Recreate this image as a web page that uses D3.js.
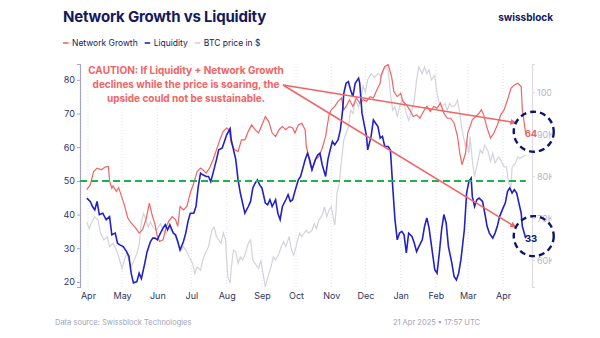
<!DOCTYPE html>
<html>
<head>
<meta charset="utf-8">
<script src="https://cdn.jsdelivr.net/npm/d3@7"></script>
<style>
  html, body { margin: 0; padding: 0; background: #ffffff; }
  svg { display: block; font-family: Inter, "Noto Sans", sans-serif; }
</style>
</head>
<body>
<svg id="chart" width="600" height="338"></svg>
<script>
// ---- data -------------------------------------------------------------
const networkGrowth = [
  ["2024-03-31",47.4],["2024-04-03",48.8],["2024-04-06",52.8],["2024-04-09",53.8],["2024-04-13",53.3],
  ["2024-04-16",54.1],["2024-04-19",54.3],["2024-04-20",50],["2024-04-22",47.8],["2024-04-23",48.5],
  ["2024-04-26",46.9],["2024-04-28",48],["2024-05-01",44.9],["2024-05-03",42.9],["2024-05-06",39],
  ["2024-05-09",37.5],["2024-05-13",36],["2024-05-16",34.5],["2024-05-19",35.5],["2024-05-22",38.5],
  ["2024-05-25",43.4],["2024-05-27",40.4],["2024-05-30",37],["2024-06-01",33.5],["2024-06-03",32],
  ["2024-06-06",32.5],["2024-06-09",36.5],["2024-06-11",38],["2024-06-14",39.4],["2024-06-17",38.5],
  ["2024-06-19",36.5],["2024-06-21",42.4],["2024-06-24",41.4],["2024-06-27",42.4],["2024-06-30",46.4],
  ["2024-07-03",49.3],["2024-07-06",52.8],["2024-07-09",53.8],["2024-07-11",53.3],["2024-07-14",52.3],
  ["2024-07-17",53.8],["2024-07-20",56.3],["2024-07-23",59.2],["2024-07-26",62.2],["2024-07-29",64.7],
  ["2024-08-01",65.7],["2024-08-03",65.2],["2024-08-05",61.2],["2024-08-08",59.2],["2024-08-11",58.7],
  ["2024-08-14",62.2],["2024-08-17",62.2],["2024-08-20",64.7],["2024-08-23",66.6],["2024-08-26",65.2],
  ["2024-08-29",64.2],["2024-09-01",66.6],["2024-09-04",69.1],["2024-09-07",67.6],["2024-09-10",64.2],
  ["2024-09-13",63.2],["2024-09-16",65.2],["2024-09-19",66.1],["2024-09-22",65.2],["2024-09-25",66.1],
  ["2024-09-28",65.7],["2024-09-30",64.2],["2024-10-03",66.6],["2024-10-06",67.1],["2024-10-09",65.2],
  ["2024-10-10",60.2],["2024-10-12",57.7],["2024-10-13",55.3],["2024-10-15",53.3],["2024-10-16",54.3],
  ["2024-10-18",56.3],["2024-10-21",57.2],["2024-10-24",59.7],["2024-10-27",63.2],["2024-10-30",69.6],
  ["2024-11-01",71.1],["2024-11-04",72.1],["2024-11-07",73.6],["2024-11-10",74.6],["2024-11-12",71.1],
  ["2024-11-14",72.1],["2024-11-17",74.1],["2024-11-20",72.1],["2024-11-23",74.6],["2024-11-26",73.1],
  ["2024-11-29",74.1],["2024-12-02",73.6],["2024-12-05",75],["2024-12-08",74.6],["2024-12-11",77],
  ["2024-12-14",79],["2024-12-15",81.5],["2024-12-18",84],["2024-12-21",84.5],["2024-12-24",81],
  ["2024-12-26",76.5],["2024-12-29",75],["2025-01-01",76],["2025-01-03",73.6],["2025-01-06",72.6],
  ["2025-01-09",71.1],["2025-01-12",69.1],["2025-01-15",69.6],["2025-01-18",68.6],["2025-01-21",70.6],
  ["2025-01-24",72.1],["2025-01-27",70.6],["2025-01-30",72.1],["2025-02-02",71.6],["2025-02-05",73.1],
  ["2025-02-08",70.1],["2025-02-11",68.6],["2025-02-14",68.6],["2025-02-17",67.1],["2025-02-20",63.2],
  ["2025-02-22",58.2],["2025-02-24",54.8],["2025-02-27",58.2],["2025-03-01",64.2],["2025-03-05",68.1],
  ["2025-03-08",69.1],["2025-03-11",70.1],["2025-03-13",71.1],["2025-03-15",69.6],["2025-03-18",65.7],
  ["2025-03-21",62.7],["2025-03-24",64.2],["2025-03-27",66.6],["2025-03-30",69.6],["2025-04-02",71.1],
  ["2025-04-05",74.1],["2025-04-08",77.5],["2025-04-11",78.5],["2025-04-14",79],["2025-04-17",78],
  ["2025-04-18",71.1],["2025-04-21",64]
];

const liquidity = [
  ["2024-03-31",44.9],["2024-04-03",43.9],["2024-04-05",42.4],["2024-04-07",41.4],["2024-04-09",43.9],
  ["2024-04-11",40],["2024-04-14",40.4],["2024-04-17",38.5],["2024-04-20",39.4],["2024-04-22",34],
  ["2024-04-25",34.5],["2024-04-27",31.5],["2024-04-29",31],["2024-05-02",30.5],["2024-05-05",29],
  ["2024-05-07",27.6],["2024-05-09",22.6],["2024-05-11",19.7],["2024-05-14",20.1],["2024-05-16",22.6],
  ["2024-05-18",21],["2024-05-21",25.6],["2024-05-23",29],["2024-05-26",32],["2024-05-28",33],
  ["2024-05-30",33],["2024-06-01",32.5],["2024-06-03",34],["2024-06-06",36],["2024-06-08",37],
  ["2024-06-10",35.5],["2024-06-12",37],["2024-06-15",34.5],["2024-06-17",34],["2024-06-19",32],
  ["2024-06-21",29.5],["2024-06-24",32],["2024-06-26",34.5],["2024-06-28",38],["2024-06-30",40.4],
  ["2024-07-03",40.4],["2024-07-05",42.4],["2024-07-07",48.3],["2024-07-09",52.3],["2024-07-11",51.8],
  ["2024-07-14",51.3],["2024-07-16",51.3],["2024-07-18",49.8],["2024-07-20",52.3],["2024-07-23",56.3],
  ["2024-07-25",59.2],["2024-07-28",59.7],["2024-07-30",61.7],["2024-08-01",63.7],["2024-08-04",65.5],
  ["2024-08-05",62.2],["2024-08-07",59.2],["2024-08-09",56.3],["2024-08-11",50.3],["2024-08-13",46.4],
  ["2024-08-15",43.4],["2024-08-17",40.4],["2024-08-20",42.4],["2024-08-22",43.9],["2024-08-24",47.9],
  ["2024-08-26",49.3],["2024-08-28",50.3],["2024-08-30",48.8],["2024-09-01",47.9],["2024-09-04",43.4],
  ["2024-09-06",42.9],["2024-09-08",44.4],["2024-09-10",42.4],["2024-09-13",44.4],["2024-09-15",40.4],
  ["2024-09-17",38.5],["2024-09-19",42.4],["2024-09-22",44.4],["2024-09-24",45.9],["2024-09-26",43.9],
  ["2024-09-28",44.4],["2024-09-30",46.9],["2024-10-03",50.3],["2024-10-05",51.3],["2024-10-07",53.8],
  ["2024-10-09",56.3],["2024-10-11",58.2],["2024-10-13",56.3],["2024-10-15",53.3],["2024-10-18",56.3],
  ["2024-10-20",57.7],["2024-10-22",58.2],["2024-10-24",54.8],["2024-10-27",51.3],["2024-10-29",56.3],
  ["2024-10-31",59.2],["2024-11-02",61.7],["2024-11-04",60.7],["2024-11-07",62.2],["2024-11-09",65.2],
  ["2024-11-11",71.1],["2024-11-12",76],["2024-11-14",79],["2024-11-16",79.5],["2024-11-18",77],
  ["2024-11-20",75],["2024-11-22",79],["2024-11-25",80.5],["2024-11-26",79],["2024-11-28",70.1],
  ["2024-11-30",66.6],["2024-12-02",63.2],["2024-12-03",59.2],["2024-12-06",63.2],["2024-12-08",68.1],
  ["2024-12-10",67.1],["2024-12-12",66.1],["2024-12-14",62.7],["2024-12-16",63.2],["2024-12-18",60.2],
  ["2024-12-21",60.2],["2024-12-23",59.2],["2024-12-25",48.3],["2024-12-27",38.5],["2024-12-29",32.5],
  ["2024-12-31",34.5],["2025-01-02",35],["2025-01-04",34],["2025-01-06",28.6],["2025-01-08",34.5],
  ["2025-01-11",33.5],["2025-01-13",31.5],["2025-01-15",29],["2025-01-17",30.5],["2025-01-20",32.5],
  ["2025-01-22",36.5],["2025-01-24",39],["2025-01-26",36],["2025-01-28",31],["2025-01-31",23.6],
  ["2025-02-02",22.6],["2025-02-04",28.6],["2025-02-06",35.5],["2025-02-08",40],["2025-02-10",37.5],
  ["2025-02-12",30.5],["2025-02-15",25.6],["2025-02-17",21.6],["2025-02-19",20.6],["2025-02-21",22.6],
  ["2025-02-23",26.6],["2025-02-26",35.5],["2025-02-28",46.4],["2025-03-02",49.8],["2025-03-04",50.8],
  ["2025-03-05",45.4],["2025-03-07",42.4],["2025-03-09",44.4],["2025-03-11",44.9],["2025-03-14",43.9],
  ["2025-03-16",40.4],["2025-03-18",36.5],["2025-03-20",34.5],["2025-03-23",33],["2025-03-25",34.5],
  ["2025-03-27",36.5],["2025-03-29",39.4],["2025-04-01",41.9],["2025-04-03",43.4],["2025-04-05",46.9],
  ["2025-04-07",47.9],["2025-04-09",46.4],["2025-04-11",47.4],["2025-04-13",46.4],["2025-04-15",43.4],
  ["2025-04-17",40.4],["2025-04-18",36.5],["2025-04-21",33]
];

// BTC price, thousands of US dollars
const btcPrice = [
  ["2024-03-31",69.1],["2024-04-02",67.5],["2024-04-04",68.8],["2024-04-07",70.3],["2024-04-10",69.5],
  ["2024-04-12",66.4],["2024-04-15",64.8],["2024-04-18",65.6],["2024-04-20",63.2],["2024-04-23",64],
  ["2024-04-26",62.4],["2024-04-28",60.8],["2024-05-01",58],["2024-05-03",60],["2024-05-05",61.6],
  ["2024-05-07",60],["2024-05-09",58.4],["2024-05-11",59.6],["2024-05-14",61.6],["2024-05-16",63.6],
  ["2024-05-18",69.1],["2024-05-20",71.1],["2024-05-22",69.5],["2024-05-24",67.9],["2024-05-26",69.1],
  ["2024-05-28",67.9],["2024-05-31",67.1],["2024-06-02",67.9],["2024-06-04",68.7],["2024-06-06",67.1],
  ["2024-06-09",66.4],["2024-06-11",67.9],["2024-06-13",67.1],["2024-06-15",66.7],["2024-06-18",64.8],
  ["2024-06-20",63.2],["2024-06-22",62.4],["2024-06-24",63.2],["2024-06-27",62],["2024-06-29",60.8],
  ["2024-07-02",59.2],["2024-07-04",56.8],["2024-07-06",58.4],["2024-07-09",57.6],["2024-07-11",60],
  ["2024-07-13",61.6],["2024-07-16",63.2],["2024-07-19",67.1],["2024-07-21",67.9],["2024-07-23",65.6],
  ["2024-07-25",64.8],["2024-07-27",64],["2024-07-29",66.5],["2024-07-31",64.8],["2024-08-01",60],
  ["2024-08-02",56],["2024-08-04",54.5],["2024-08-05",58],["2024-08-07",62.4],["2024-08-09",62],
  ["2024-08-11",59.2],["2024-08-13",60.8],["2024-08-15",60],["2024-08-17",61.2],["2024-08-20",64],
  ["2024-08-22",64.8],["2024-08-24",60],["2024-08-26",59.2],["2024-08-29",58],["2024-08-31",60],
  ["2024-09-02",56.8],["2024-09-04",53.6],["2024-09-07",56.8],["2024-09-09",58.4],["2024-09-11",60.8],
  ["2024-09-13",60],["2024-09-16",61.6],["2024-09-18",63.2],["2024-09-20",64.4],["2024-09-22",63.2],
  ["2024-09-25",65.6],["2024-09-27",62.4],["2024-09-29",61.2],["2024-10-01",63.2],["2024-10-04",66.4],
  ["2024-10-06",65.6],["2024-10-08",66.4],["2024-10-10",67.1],["2024-10-12",66.4],["2024-10-15",67.1],
  ["2024-10-17",68.7],["2024-10-19",67.5],["2024-10-21",69.5],["2024-10-24",70.7],["2024-10-26",72.7],
  ["2024-10-28",70.3],["2024-10-30",71.9],["2024-11-01",72.7],["2024-11-04",68.3],["2024-11-05",71.1],
  ["2024-11-06",75.9],["2024-11-08",78.3],["2024-11-10",83.8],["2024-11-12",88.6],["2024-11-14",90.2],
  ["2024-11-16",91.7],["2024-11-18",95.7],["2024-11-20",94.9],["2024-11-22",98.1],["2024-11-25",96.5],
  ["2024-11-27",98.5],["2024-11-29",101.5],["2024-12-01",100],["2024-12-03",102.9],["2024-12-06",104.4],
  ["2024-12-09",103.5],["2024-12-12",104.4],["2024-12-15",103.6],["2024-12-18",106],["2024-12-21",105.3],
  ["2024-12-23",99.7],["2024-12-25",95.7],["2024-12-27",96.5],["2024-12-29",94.1],["2024-12-31",96.5],
  ["2025-01-02",98.1],["2025-01-04",97.3],["2025-01-06",94.9],["2025-01-08",93.3],["2025-01-11",95.7],
  ["2025-01-13",98.1],["2025-01-15",102.9],["2025-01-17",106],["2025-01-20",104.4],["2025-01-22",106],
  ["2025-01-24",104.4],["2025-01-26",105.3],["2025-01-28",102.9],["2025-01-31",104],["2025-02-02",99.7],
  ["2025-02-04",97.3],["2025-02-06",96.5],["2025-02-09",97.3],["2025-02-11",95.7],["2025-02-13",97.3],
  ["2025-02-15",96.5],["2025-02-18",96.9],["2025-02-20",98.1],["2025-02-22",94.9],["2025-02-24",91],
  ["2025-02-27",87],["2025-02-28",88.6],["2025-03-02",85.4],["2025-03-03",89.4],["2025-03-05",83.8],
  ["2025-03-07",79.8],["2025-03-10",83.8],["2025-03-12",86.2],["2025-03-14",85.4],["2025-03-16",87.4],
  ["2025-03-19",85.8],["2025-03-21",83.5],["2025-03-23",85.4],["2025-03-25",83.1],["2025-03-28",84.6],
  ["2025-03-30",83.8],["2025-04-02",82.2],["2025-04-04",82.2],["2025-04-06",78.3],["2025-04-08",77.5],
  ["2025-04-09",82.2],["2025-04-12",83.1],["2025-04-14",84.6],["2025-04-16",84.2],["2025-04-18",84.6],
  ["2025-04-21",85]
];

const leftTicks = [20, 30, 40, 50, 60, 70, 80];
const rightTicks = [60, 70, 80, 90, 100];   // thousands of $
const threshold = 50;
const seriesNames = ["Network Growth", "Liquidity", "BTC price in $"];
const cautionLines = [
  "CAUTION: If Liquidity + Network Growth",
  "declines while the price is soaring, the",
  "upside could not be sustainable."
];

// ---- setup ------------------------------------------------------------
const parse = d3.utcParse("%Y-%m-%d");
const toPoints = arr => arr.map(([d, v]) => ({ date: parse(d), value: v }));
const ng = toPoints(networkGrowth);
const lq = toPoints(liquidity);
const px = toPoints(btcPrice);

const C = {
  navy: "#141a5c",
  red: "#f06464",
  blue: "#2222c4",
  grey: "#d3d3de",
  green: "#1fb14f",
  circle: "#0c1670",
  axisLeft: "#a3a6c9",
  axisRight: "#dcdce6",
  rightText: "#b4b6c8",
  footer: "#a2a4b4"
};

const plot = { left: 80, right: 532, top: 64, bottom: 287 };

const svg = d3.select("#chart");

const x = d3.scaleUtc()
  .domain([parse("2024-03-25"), new Date(Date.UTC(2025, 3, 26, 12))])
  .range([plot.left, plot.right]);
const yL = d3.scaleLinear().domain([18.5, 84.7]).range([plot.bottom, plot.top]);
const yR = d3.scaleLinear().domain([53.6, 106.7]).range([plot.bottom, plot.top]);

// ---- header -----------------------------------------------------------
svg.append("text")
  .attr("x", 63).attr("y", 22)
  .attr("fill", C.navy)
  .attr("font-size", 15).attr("font-weight", 700)
  .attr("letter-spacing", -0.2)
  .text("Network Growth vs Liquidity");

svg.append("text")
  .attr("x", 553).attr("y", 21)
  .attr("text-anchor", "end")
  .attr("fill", C.navy)
  .attr("font-size", 10).attr("font-weight", 700)
  .text("swissblock");

// legend
const legendColors = [C.red, C.blue, C.grey];
let lx = 63;
seriesNames.forEach((name, i) => {
  const g = svg.append("g").attr("transform", `translate(${lx},43)`);
  g.append("line").attr("x1", 0).attr("x2", 5.5).attr("y1", 0).attr("y2", 0)
    .attr("stroke", legendColors[i]).attr("stroke-width", 1.6);
  const t = g.append("text").attr("x", 9).attr("y", 3)
    .attr("fill", C.navy).attr("font-size", 8.5).text(name);
  lx += 9 + t.node().getComputedTextLength() + 7;
});

// ---- grid -------------------------------------------------------------
const months = x.ticks(d3.utcMonth.every(1)).filter(d => d >= parse("2024-04-01"));
svg.append("g").selectAll("line").data(months).join("line")
  .attr("x1", d => x(d)).attr("x2", d => x(d))
  .attr("y1", plot.top).attr("y2", plot.bottom)
  .attr("stroke", "#d9dae4").attr("stroke-width", 0.8)
  .attr("stroke-dasharray", "1,2");

// ---- axes -------------------------------------------------------------
const axL = svg.append("g").attr("transform", `translate(${plot.left},0)`)
  .call(d3.axisLeft(yL).tickValues(leftTicks).tickSize(3).tickPadding(2));
axL.select(".domain").attr("stroke", C.axisLeft).attr("stroke-width", 1.2);
axL.selectAll(".tick line").attr("stroke", C.axisLeft);
axL.selectAll("text").attr("fill", "#30345e").attr("font-size", 9).attr("font-family", "Inter, sans-serif");

svg.append("defs").append("clipPath").attr("id", "rclip")
  .append("rect").attr("x", plot.right - 2).attr("y", 0).attr("width", 21.5).attr("height", 338);

const axR = svg.append("g").attr("clip-path", "url(#rclip)")
  .append("g").attr("transform", `translate(${plot.right},0)`)
  .call(d3.axisRight(yR).tickValues(rightTicks).tickFormat(d => d + "K").tickSize(3).tickPadding(2));
axR.select(".domain").attr("stroke", C.axisRight).attr("stroke-width", 1.2);
axR.selectAll(".tick line").attr("stroke", C.axisRight);
axR.selectAll("text").attr("fill", C.rightText).attr("font-size", 9).attr("font-family", "Inter, sans-serif");

const axX = svg.append("g").attr("transform", `translate(0,${plot.bottom})`)
  .call(d3.axisBottom(x).tickValues(months).tickFormat(d3.utcFormat("%b")).tickSize(0).tickPadding(6));
axX.select(".domain").remove();
axX.selectAll("text").attr("fill", "#30345e").attr("font-size", 9).attr("font-family", "Inter, sans-serif");

// ---- series -----------------------------------------------------------
const lineL = d3.line().x(d => x(d.date)).y(d => yL(d.value));
const lineR = d3.line().x(d => x(d.date)).y(d => yR(d.value));

svg.append("path").datum(px).attr("d", lineR)
  .attr("fill", "none").attr("stroke", C.grey).attr("stroke-width", 1.2);
svg.append("path").datum(ng).attr("d", lineL)
  .attr("fill", "none").attr("stroke", C.red).attr("stroke-width", 1.2);
svg.append("path").datum(lq).attr("d", lineL)
  .attr("fill", "none").attr("stroke", C.blue).attr("stroke-width", 1.6);

// threshold line
svg.append("line")
  .attr("x1", plot.left).attr("x2", x(ng[ng.length - 1].date))
  .attr("y1", yL(threshold)).attr("y2", yL(threshold))
  .attr("stroke", C.green).attr("stroke-width", 2)
  .attr("stroke-dasharray", "7,4");

// ---- annotation -------------------------------------------------------
const note = svg.append("text")
  .attr("fill", C.red).attr("font-size", 10).attr("font-weight", 700)
  .attr("text-anchor", "middle");
cautionLines.forEach((s, i) => {
  note.append("tspan").attr("x", 186).attr("y", 74 + i * 14.2).text(s);
});

const lastNg = ng[ng.length - 1];
const lastLq = lq[lq.length - 1];
const marks = [
  { p: lastNg, color: C.red },
  { p: lastLq, color: C.circle }
];

svg.append("defs").append("marker")
  .attr("id", "arrow").attr("viewBox", "0 0 10 10")
  .attr("refX", 9).attr("refY", 5)
  .attr("markerWidth", 4).attr("markerHeight", 4)
  .attr("orient", "auto")
  .append("path").attr("d", "M0,0L10,5L0,10Z").attr("fill", C.red);

const arrowStart = [283, 85];
marks.forEach(m => {
  const cx = x(m.p.date) + 8, cy = yL(m.p.value) - 2;
  svg.append("line")
    .attr("x1", arrowStart[0]).attr("y1", arrowStart[1])
    .attr("x2", cx - 18).attr("y2", cy - 9)
    .attr("stroke", C.red).attr("stroke-width", 1.5)
    .attr("marker-end", "url(#arrow)");
  svg.append("circle")
    .attr("cx", cx).attr("cy", cy).attr("r", 20)
    .attr("fill", "none").attr("stroke", C.circle)
    .attr("stroke-width", 2.4).attr("stroke-dasharray", "6,4");
  svg.append("text")
    .attr("x", cx + 3.5).attr("y", yL(m.p.value) + 3.5)
    .attr("text-anchor", "end")
    .attr("fill", m.color).attr("font-size", 9.5).attr("font-weight", 700)
    .text(m.p.value);
});

// ---- footer -----------------------------------------------------------
svg.append("text")
  .attr("x", 55).attr("y", 325)
  .attr("fill", C.footer).attr("font-size", 7.5)
  .text("Data source: Swissblock Technologies");
svg.append("text")
  .attr("x", 480).attr("y", 325).attr("text-anchor", "end")
  .attr("fill", C.footer).attr("font-size", 7.5)
  .text("21 Apr 2025 \u2022 17:57 UTC");
</script>
</body>
</html>
